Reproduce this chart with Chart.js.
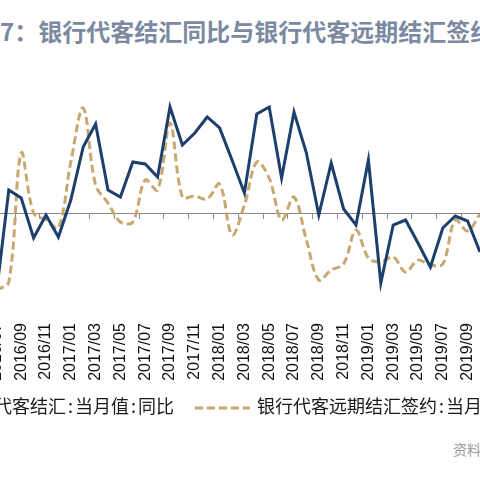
<!DOCTYPE html>
<html>
<head>
<meta charset="utf-8">
<script src="https://cdn.jsdelivr.net/npm/chart.js@4.4.1/dist/chart.umd.min.js"></script>
<style>
  html, body { margin: 0; padding: 0; background: #fff; }
  #wrap { position: relative; width: 480px; height: 480px; overflow: hidden; background: #fff; }
  #title { position: absolute; left: -24px; top: 15px; white-space: nowrap;
           font: bold 24px "Noto Sans CJK SC", sans-serif; color: #7b8aa0; line-height: 32px; }
  #chartBox { position: absolute; left: -20px; top: 0; width: 520px; height: 400px; }
  #legend { position: absolute; left: -42px; top: 393px; white-space: nowrap;
            font: 18px "Noto Sans CJK SC", sans-serif; color: #1a1a1a; line-height: 24px; }
  #legend svg { vertical-align: middle; margin: 0 7px 0 0; }
  #legend .item { display: inline-block; }
  #legend .item1 { margin-right: 21px; }
  #legend .colon { display: inline-block; width: 0.5em; text-align: center; }
  #source { position: absolute; left: 453px; top: 439px; white-space: nowrap;
            font: 14px "Noto Sans CJK SC", sans-serif; color: #9a9a9a; }
</style>
</head>
<body>
<div id="wrap">
  <div id="title">图7：银行代客结汇同比与银行代客远期结汇签约同比</div>
  <div id="chartBox"><canvas id="c" width="520" height="400"></canvas></div>
  <div id="legend">
    <span class="item item1" id="lgText1"></span><span class="item"><svg width="55" height="6"><line x1="0" y1="3" x2="55" y2="3" stroke="#c8a770" stroke-width="3" stroke-dasharray="8,4"/></svg><span id="lgText2"></span></span>
  </div>
  <div id="source">资料来源：Wind</div>
</div>
<script>
// Categories (monthly, 2016/07 .. 2019/10)
const months = [
  '2016/07','2016/08','2016/09','2016/10','2016/11','2016/12',
  '2017/01','2017/02','2017/03','2017/04','2017/05','2017/06',
  '2017/07','2017/08','2017/09','2017/10','2017/11','2017/12',
  '2018/01','2018/02','2018/03','2018/04','2018/05','2018/06',
  '2018/07','2018/08','2018/09','2018/10','2018/11','2018/12',
  '2019/01','2019/02','2019/03','2019/04','2019/05','2019/06',
  '2019/07','2019/08','2019/09','2019/10'
];
// Tick labels shown on the axis (every other month)
const tickLabels = months.filter((m, i) => i % 2 === 0);

const seriesNames = ['银行代客结汇:当月值:同比', '银行代客远期结汇签约:当月值:同比'];

// 银行代客结汇:当月值:同比 (%)
const settlementYoY = [
  -40, 11.5, 7.5, -12.5, -1, -12,
  6.5, 33, 44.5, 11.5, 8, 25.5,
  24.5, 18, 53, 34, 40, 48,
  42.5, 26.5, 10, 49.5, 53, 17.5,
  50.5, 30, -1, 25, 2, -6,
  26.5, -35, -6, -3.5, -15, -27,
  -7.5, -1.5, -4, -19.5
];
// 银行代客远期结汇签约:当月值:同比 (%)
const forwardYoY = [
  -38.5, -34.5, 30, 0, -3.5, -7.5,
  25.5, 52.5, 14, 5, -4.5, -4.5,
  16.5, 11.5, 45, 8, 8.5, 7,
  14.5, -11, 4, 25.5, 17.5, -3.5,
  8, -13.5, -33.5, -28.5, -25.5, -8.5,
  -22.5, -24.5, -22, -29.5, -23.5, -26,
  -25.5, -3.5, -9, -0.5
];

// legend text (colons drawn half-width, as in the original)
function fillLegend(el, txt) {
  txt.split(':').forEach((part, i) => {
    if (i > 0) { const c = document.createElement('span'); c.className = 'colon'; c.textContent = ':'; el.appendChild(c); }
    el.appendChild(document.createTextNode(part));
  });
}
fillLegend(document.getElementById('lgText1'), seriesNames[0]);
fillLegend(document.getElementById('lgText2'), seriesNames[1]);

const BLUE = '#1d3f6b';
const GOLD = '#c8a770';

function noPad(s) { s.paddingLeft = 0; s.paddingRight = 0; }

new Chart(document.getElementById('c'), {
  type: 'line',
  data: {
    labels: months,
    datasets: [
      { label: seriesNames[0], data: settlementYoY, borderColor: BLUE, borderWidth: 3,
        pointRadius: 0, tension: 0, xAxisID: 'x', yAxisID: 'y', order: 1 },
      { label: seriesNames[1], data: forwardYoY, borderColor: GOLD, borderWidth: 3,
        borderDash: [8, 4], pointRadius: 0, tension: 0.35, xAxisID: 'x', yAxisID: 'y', order: 2 }
    ]
  },
  options: {
    responsive: false,
    animation: false,
    events: [],
    layout: { padding: { left: 10.2, right: 13.8, top: 53, bottom: 0 } },
    plugins: { legend: { display: false }, tooltip: { enabled: false }, title: { display: false } },
    scales: {
      y: { type: 'linear', display: false, min: -50, max: 80 },
      x: {
        type: 'category', position: { y: 0 }, offset: true,
        grid: { display: true, drawOnChartArea: false, drawTicks: true, tickLength: 5,
                offset: true, tickWidth: 1,
                tickColor: (ctx) => (ctx.index % 2 === 0 ? '#8a8a8a' : 'rgba(0,0,0,0)') },
        border: { display: true, color: '#8a8a8a', width: 1 },
        ticks: { display: false, autoSkip: false },
        afterFit: (s) => { s.height = 0; noPad(s); }
      },
      x2: {
        type: 'category', position: 'bottom', offset: true,
        grid: { display: false, drawTicks: false },
        border: { display: false },
        ticks: {
          autoSkip: false, maxRotation: 90, minRotation: 90, padding: 10,
          color: '#111', font: { family: '"Liberation Sans", Arial, sans-serif', size: 16 },
          callback: function (val, idx) { const m = months[idx]; return tickLabels.includes(m) ? m : ''; }
        },
        afterFit: (s) => { s.height = 87; noPad(s); }
      }
    }
  }
});
</script>
</body>
</html>
